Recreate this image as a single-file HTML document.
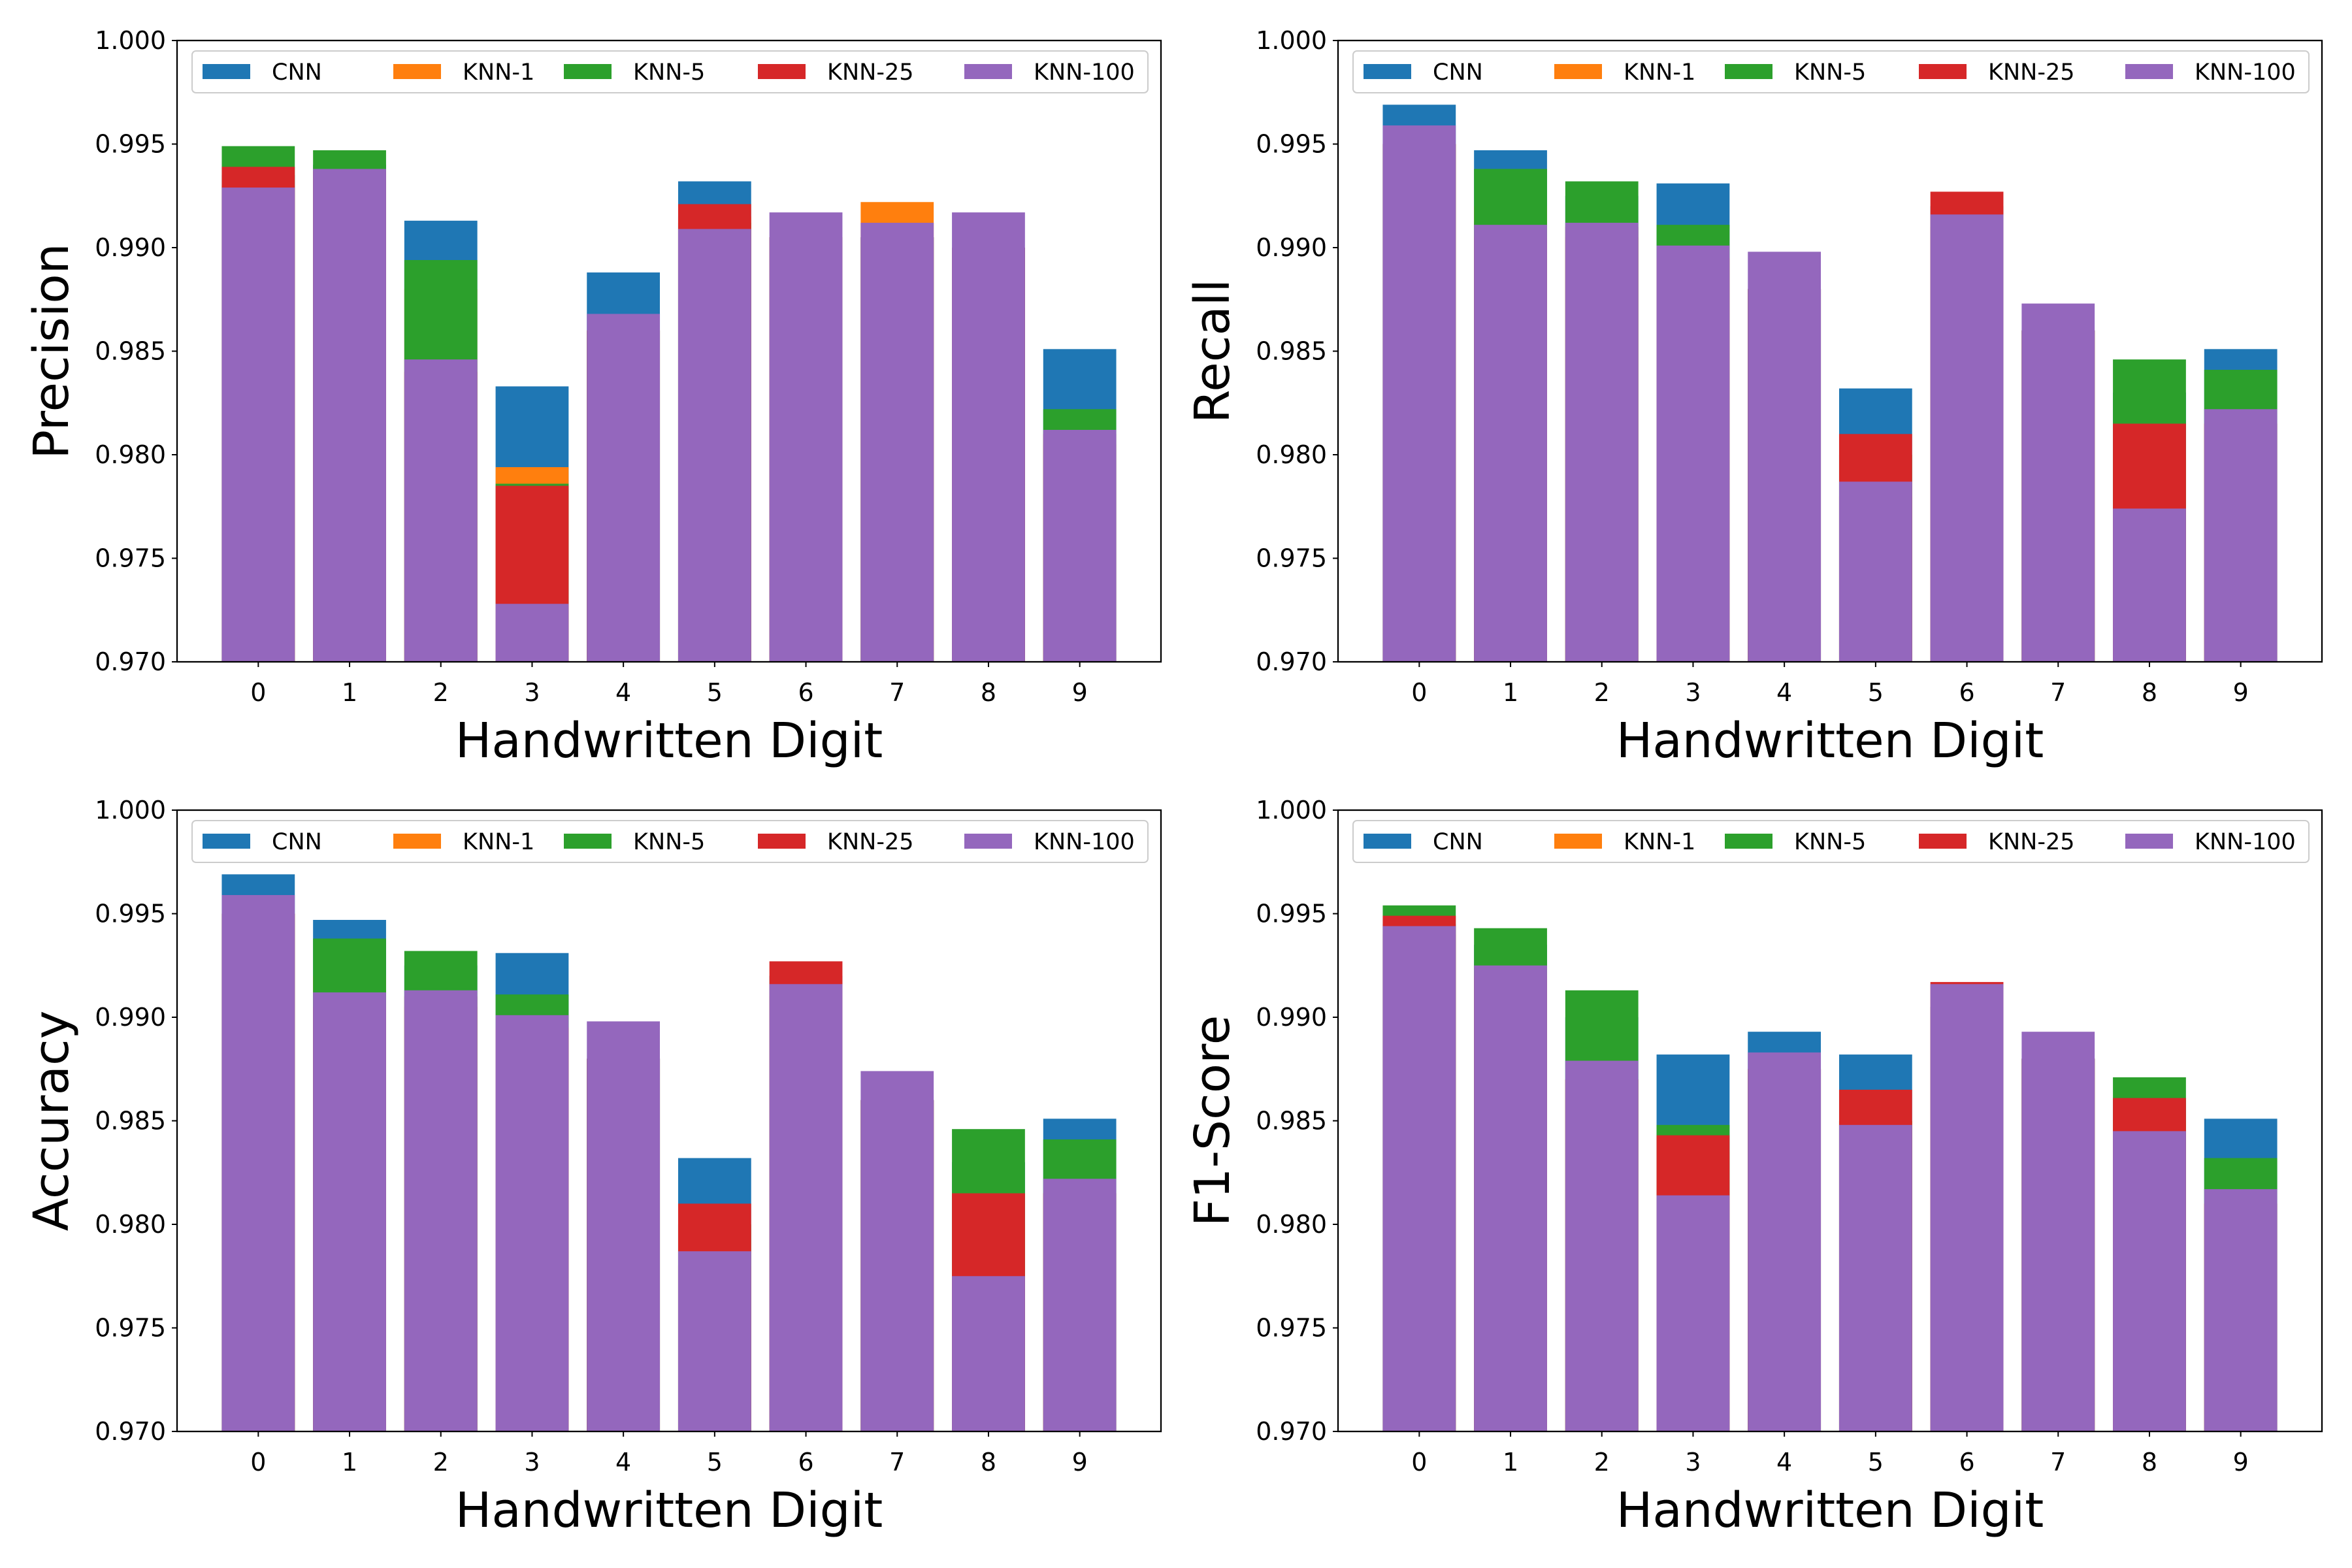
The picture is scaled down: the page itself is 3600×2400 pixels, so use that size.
<!DOCTYPE html>
<html><head><meta charset="utf-8"><style>
html,body{margin:0;padding:0;background:#fff;}
svg{display:block;font-family:"DejaVu Sans","Liberation Sans",sans-serif;}
</style></head><body>
<svg id="fig" width="3600" height="2400" viewBox="0 0 3600 2400" xmlns="http://www.w3.org/2000/svg"></svg>
<script>
const digits = ['0','1','2','3','4','5','6','7','8','9'];
const seriesNames = ['CNN','KNN-1','KNN-5','KNN-25','KNN-100'];
const seriesColors = ['#1f77b4','#ff7f0e','#2ca02c','#d62728','#9467bd'];
const yTicks = [0.970,0.975,0.980,0.985,0.990,0.995,1.000];
const yTickLabels = ['0.970','0.975','0.980','0.985','0.990','0.995','1.000'];

const precCNN   = [0.9935,0.9940,0.9913,0.9833,0.9888,0.9932,0.9905,0.9905,0.9900,0.9851];
const precKNN1  = [0.9930,0.9935,0.9880,0.9794,0.9860,0.9915,0.9905,0.9922,0.9900,0.9805];
const precKNN5  = [0.9949,0.9947,0.9894,0.9786,0.9860,0.9912,0.9905,0.9905,0.9900,0.9822];
const precKNN25 = [0.9939,0.9937,0.9840,0.9785,0.9860,0.9921,0.9905,0.9905,0.9900,0.9810];
const precKNN100= [0.9929,0.9938,0.9846,0.9728,0.9868,0.9909,0.9917,0.9912,0.9917,0.9812];

const recCNN   = [0.9969,0.9947,0.9925,0.9931,0.9880,0.9832,0.9920,0.9860,0.9830,0.9851];
const recKNN1  = [0.9950,0.9920,0.9905,0.9895,0.9880,0.9780,0.9910,0.9860,0.9800,0.9815];
const recKNN5  = [0.9950,0.9938,0.9932,0.9911,0.9880,0.9800,0.9910,0.9860,0.9846,0.9841];
const recKNN25 = [0.9950,0.9905,0.9910,0.9895,0.9880,0.9810,0.9927,0.9860,0.9815,0.9815];
const recKNN100= [0.9959,0.9911,0.9912,0.9901,0.9898,0.9787,0.9916,0.9873,0.9774,0.9822];

const accCNN   = [0.9969,0.9947,0.9925,0.9931,0.9880,0.9832,0.9920,0.9860,0.9830,0.9851];
const accKNN1  = [0.9950,0.9920,0.9905,0.9895,0.9880,0.9780,0.9910,0.9860,0.9800,0.9815];
const accKNN5  = [0.9950,0.9938,0.9932,0.9911,0.9880,0.9800,0.9910,0.9860,0.9846,0.9841];
const accKNN25 = [0.9950,0.9905,0.9910,0.9895,0.9880,0.9810,0.9927,0.9860,0.9815,0.9815];
const accKNN100= [0.9959,0.9912,0.9913,0.9901,0.9898,0.9787,0.9916,0.9874,0.9775,0.9822];

const f1CNN   = [0.9945,0.9935,0.9900,0.9882,0.9893,0.9882,0.9905,0.9880,0.9860,0.9851];
const f1KNN1  = [0.9940,0.9925,0.9870,0.9835,0.9875,0.9850,0.9905,0.9880,0.9850,0.9810];
const f1KNN5  = [0.9954,0.9943,0.9913,0.9848,0.9875,0.9850,0.9905,0.9880,0.9871,0.9832];
const f1KNN25 = [0.9949,0.9920,0.9870,0.9843,0.9875,0.9865,0.9917,0.9880,0.9861,0.9810];
const f1KNN100= [0.9944,0.9925,0.9879,0.9814,0.9883,0.9848,0.9916,0.9893,0.9845,0.9817];

const NS='http://www.w3.org/2000/svg';
const svg=document.getElementById('fig');
function mk(tag,attrs,parent){const e=document.createElementNS(NS,tag);for(const k in attrs)e.setAttribute(k,attrs[k]);(parent||svg).appendChild(e);return e;}

function panel(key,title,L,T,series){
  const W=1506,H=951,ymin=0.970,ymax=1.000,xmin=-0.89,xmax=9.89;
  const xs=v=>L+(v-xmin)/(xmax-xmin)*W;
  const ys=v=>T+H-(v-ymin)/(ymax-ymin)*H;
  const g=mk('g',{});
  
  
  series.forEach((arr,si)=>{
    arr.forEach((v,i)=>{
      const x0=xs(i-0.4),x1=xs(i+0.4),y=ys(v);
      const r=mk('rect',{x:x0,y:y,width:x1-x0,height:ys(ymin)-y,fill:seriesColors[si]},g);
      
      
    });
  });
  const frame=mk('rect',{x:L,y:T,width:W,height:H,fill:'none',stroke:'#000','stroke-width':2.3},g);
  
  
  yTicks.forEach((t,i)=>{
    const y=ys(t);
    mk('line',{x1:L-8,x2:L,y1:y,y2:y,stroke:'#000','stroke-width':2},g);
    const tx=mk('text',{x:L-17,y:y+13,'font-size':38,'text-anchor':'end'},g);
    tx.textContent=yTickLabels[i];
    
    
  });
  digits.forEach((d,i)=>{
    const x=xs(i);
    mk('line',{x1:x,x2:x,y1:T+H,y2:T+H+8,stroke:'#000','stroke-width':2},g);
    const tx=mk('text',{x:x,y:T+H+60,'font-size':38,'text-anchor':'middle'},g);
    tx.textContent=d;
    
    
  });
  const xl=mk('text',{x:L+W/2,y:T+H+146,'font-size':74,'text-anchor':'middle'},g);
  xl.textContent='Handwritten Digit';
  
  
  const yl=mk('text',{x:0,y:0,'font-size':74,'text-anchor':'middle',transform:'translate('+(L-167)+','+(T+H/2)+') rotate(-90)'},g);
  yl.textContent=title;
  
  
  const lg=mk('g',{},g);
  
  
  mk('rect',{x:L+23,y:T+16,width:1463,height:64,rx:6,fill:'#fff','fill-opacity':0.8,stroke:'#ccc','stroke-width':2},lg);
  const offs=[39,331,592,889,1205];
  seriesNames.forEach((n,si)=>{
    const e=mk('g',{},lg);
    
    
    mk('rect',{x:L+offs[si],y:T+36,width:73,height:23,fill:seriesColors[si]},e);
    const t=mk('text',{x:L+offs[si]+106,y:T+60,'font-size':35},e);
    t.textContent=n;
  });
}
panel('precision','Precision',271,62,[precCNN,precKNN1,precKNN5,precKNN25,precKNN100]);
panel('recall','Recall',2048,62,[recCNN,recKNN1,recKNN5,recKNN25,recKNN100]);
panel('accuracy','Accuracy',271,1240,[accCNN,accKNN1,accKNN5,accKNN25,accKNN100]);
panel('f1','F1-Score',2048,1240,[f1CNN,f1KNN1,f1KNN5,f1KNN25,f1KNN100]);
</script>
</body></html>
